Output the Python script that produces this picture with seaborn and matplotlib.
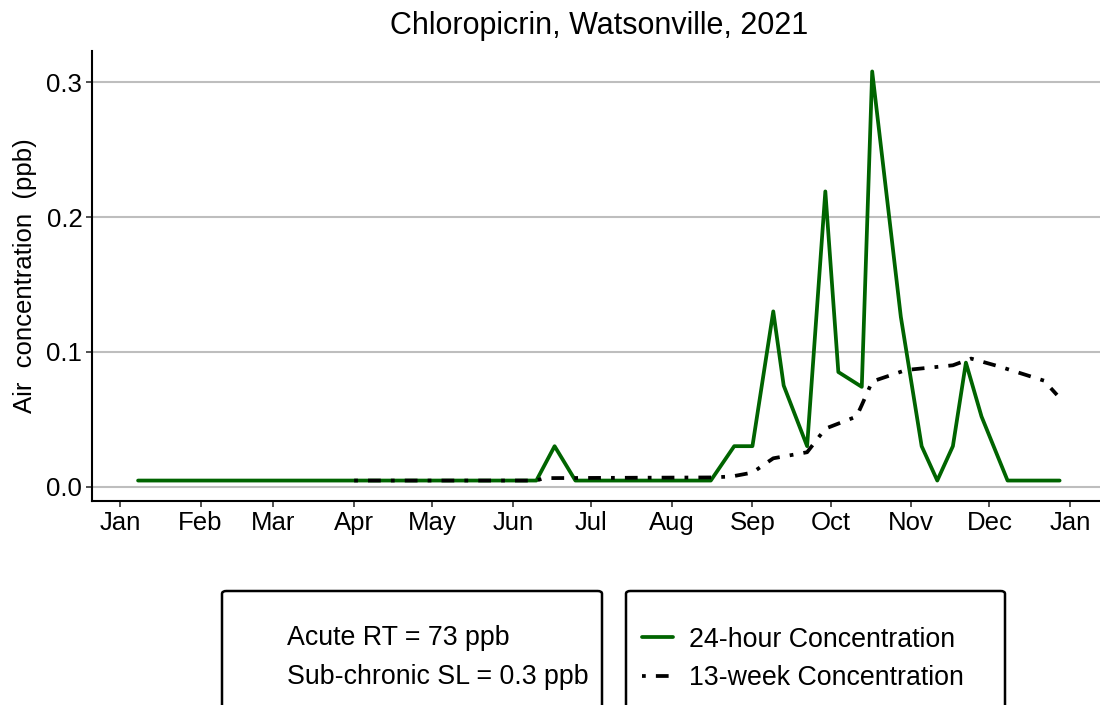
import matplotlib
matplotlib.use("Agg")
import matplotlib.pyplot as plt
import matplotlib.dates as mdates
import numpy as np
import pandas as pd
import seaborn as sns
from matplotlib.patches import FancyBboxPatch

# 24-hour samples (ppb)
dates_24h = ["2021-01-08", "2021-06-10", "2021-06-17", "2021-06-25", "2021-08-16",
             "2021-08-25", "2021-09-01", "2021-09-09", "2021-09-13", "2021-09-22",
             "2021-09-29", "2021-10-04", "2021-10-13", "2021-10-17", "2021-10-28",
             "2021-11-05", "2021-11-11", "2021-11-17", "2021-11-22", "2021-11-28",
             "2021-12-08", "2021-12-28"]
conc_24h = [0.0045, 0.0045, 0.030, 0.0045, 0.0045,
            0.030, 0.030, 0.130, 0.075, 0.030,
            0.219, 0.085, 0.074, 0.308, 0.126,
            0.030, 0.0045, 0.030, 0.092, 0.052,
            0.0045, 0.0045]

# 13-week rolling concentration (ppb)
dates_13w = ["2021-04-01", "2021-06-10", "2021-06-13", "2021-08-16", "2021-08-24",
             "2021-09-01", "2021-09-09", "2021-09-22", "2021-09-29", "2021-10-11",
             "2021-10-13", "2021-10-17", "2021-10-30", "2021-11-17", "2021-11-24",
             "2021-12-05", "2021-12-22", "2021-12-27"]
conc_13w = [0.0045, 0.0045, 0.0063, 0.0068, 0.0075,
            0.0104, 0.021, 0.0255, 0.043, 0.052,
            0.0605, 0.078, 0.0865, 0.090, 0.095,
            0.089, 0.0786, 0.068]

title = "Chloropicrin, Watsonville, 2021"
ylabel = "Air  concentration  (ppb)"
ref_lines = ["Acute RT = 73 ppb", "Sub-chronic SL = 0.3 ppb"]
labels = ["24-hour Concentration", "13-week Concentration"]

df24 = pd.DataFrame({"date": pd.to_datetime(dates_24h), "conc": conc_24h})
df13 = pd.DataFrame({"date": pd.to_datetime(dates_13w), "conc": conc_13w})

sns.set_theme(style="white")
plt.rcParams["font.family"] = ["Liberation Sans", "DejaVu Sans"]
plt.rcParams["text.color"] = "black"
plt.rcParams["axes.labelcolor"] = "black"
fs = 19.3      # legend / box text
fs_tick = 18.5
fs_title = 22

W, H = 1100, 705
fig = plt.figure(figsize=(W / 100, H / 100), dpi=100)
# panel: x from 92 px to 1105.7 px (runs past right edge), y from 51 to 501 px
ax = fig.add_axes([92 / W, 1 - 501 / H, (1105.7 - 92) / W, 450 / H])

sns.lineplot(data=df24, x="date", y="conc", ax=ax, color="#006400",
             linewidth=2.7, label=labels[0], legend=False)
sns.lineplot(data=df13, x="date", y="conc", ax=ax, color="black",
             linewidth=2.7, linestyle=(0, (1, 2.7, 3.4, 2.7)), label=labels[1],
             legend=False)

# ggplot-like 5% expansion
dmin, dmax = df24["date"].min(), df24["date"].max()
pad = (dmax - dmin) * 0.05
ax.set_xlim(dmin - pad, dmax + pad)
ymin, ymax = df24["conc"].min(), df24["conc"].max()
ypad = (ymax - ymin) * 0.05
ax.set_ylim(ymin - ypad, ymax + ypad)

ax.xaxis.set_major_locator(mdates.MonthLocator())
ax.xaxis.set_major_formatter(mdates.DateFormatter("%b"))
ax.set_yticks([0.0, 0.1, 0.2, 0.3])
ax.set_yticklabels(["0.0", "0.1", "0.2", "0.3"])

ax.yaxis.grid(True, color="#bebebe", linewidth=1.5)
ax.xaxis.grid(False)
ax.set_axisbelow(True)
for s in ["top", "right"]:
    ax.spines[s].set_visible(False)
for s in ["left", "bottom"]:
    ax.spines[s].set_color("black")
    ax.spines[s].set_linewidth(1.5)
ax.tick_params(axis="both", which="major", length=4, width=1.2, color="#333333",
               labelsize=fs_tick, labelcolor="black", pad=3, bottom=True, left=True)

ax.set_xlabel("")
ax.set_ylabel(ylabel, fontsize=18.5, labelpad=7, color="black")
ax.set_title(title, fontsize=fs_title, pad=12, color="black")

# legend boxes under the panel
for x0, x1 in [(222, 602), (626, 1005)]:
    box = FancyBboxPatch((x0 / W, -0.05), (x1 - x0) / W, 0.05 + 1 - 591 / H,
                         boxstyle="round,pad=0,rounding_size=0.004",
                         transform=fig.transFigure, facecolor="white",
                         edgecolor="black", linewidth=1.8, clip_on=False)
    fig.patches.append(box)

fig.text(287 / W, 1 - 638 / H, ref_lines[0], fontsize=fs, va="center", ha="left",
         color="black")
fig.text(287 / W, 1 - 677 / H, ref_lines[1], fontsize=fs, va="center", ha="left",
         color="black")

handles, labs = ax.get_legend_handles_labels()
leg = fig.legend(handles, labs, loc="center left",
                 bbox_to_anchor=(642 / W, 1 - 659 / H),
                 frameon=False, fontsize=fs, handlelength=1.16, handletextpad=0.6,
                 labelspacing=0.47, borderpad=0, borderaxespad=0)
for t in leg.get_texts():
    t.set_color("black")

fig.savefig("out.png", dpi=100)
